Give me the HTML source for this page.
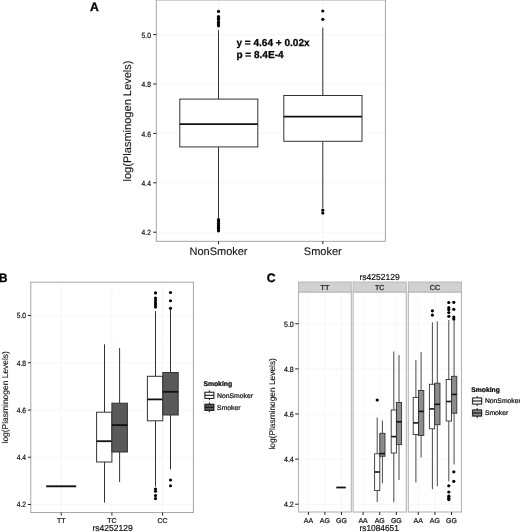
<!DOCTYPE html>
<html lang="en">
<head>
<meta charset="utf-8">
<title>Plasminogen levels by smoking status and genotype</title>
<style>
html, body { margin: 0; padding: 0; background: #ffffff; }
body { width: 520px; height: 532px; overflow: hidden; }
svg { display: block; will-change: transform; text-rendering: geometricPrecision; font-family: 'Liberation Sans', Arial, Helvetica, sans-serif; }
</style>
</head>
<body>
<svg width="520" height="532" viewBox="0 0 520 532" font-family="&quot;Liberation Sans&quot;, Arial, Helvetica, sans-serif">
<rect x="0" y="0" width="520" height="532" fill="#ffffff"/>
<rect x="156.3" y="0.0" width="229.10" height="241.30" fill="#fff"/>
<line x1="156.3" y1="9.900000000000091" x2="385.4" y2="9.900000000000091" stroke="#fdfdfd" stroke-width="0.6"/>
<line x1="156.3" y1="59.29999999999991" x2="385.4" y2="59.29999999999991" stroke="#fdfdfd" stroke-width="0.6"/>
<line x1="156.3" y1="108.69999999999996" x2="385.4" y2="108.69999999999996" stroke="#fdfdfd" stroke-width="0.6"/>
<line x1="156.3" y1="158.1" x2="385.4" y2="158.1" stroke="#fdfdfd" stroke-width="0.6"/>
<line x1="156.3" y1="207.50000000000003" x2="385.4" y2="207.50000000000003" stroke="#fdfdfd" stroke-width="0.6"/>
<line x1="156.3" y1="34.6" x2="385.4" y2="34.6" stroke="#f4f4f4" stroke-width="0.7"/>
<line x1="156.3" y1="84.00000000000004" x2="385.4" y2="84.00000000000004" stroke="#f4f4f4" stroke-width="0.7"/>
<line x1="156.3" y1="133.4000000000001" x2="385.4" y2="133.4000000000001" stroke="#f4f4f4" stroke-width="0.7"/>
<line x1="156.3" y1="182.7999999999999" x2="385.4" y2="182.7999999999999" stroke="#f4f4f4" stroke-width="0.7"/>
<line x1="156.3" y1="232.19999999999996" x2="385.4" y2="232.19999999999996" stroke="#f4f4f4" stroke-width="0.7"/>
<line x1="218.5" y1="0.0" x2="218.5" y2="241.3" stroke="#f4f4f4" stroke-width="0.7"/>
<line x1="322.8" y1="0.0" x2="322.8" y2="241.3" stroke="#f4f4f4" stroke-width="0.7"/>
<line x1="218.5" y1="30.2" x2="218.5" y2="99.1" stroke="#333333" stroke-width="1.0"/><line x1="218.5" y1="146.9" x2="218.5" y2="218.0" stroke="#333333" stroke-width="1.0"/><rect x="179.8" y="99.1" width="78.00" height="47.80" fill="#ffffff" stroke="#333333" stroke-width="1.0"/><line x1="179.8" y1="124.1" x2="257.8" y2="124.1" stroke="#111" stroke-width="1.8"/><circle cx="218.5" cy="11.4" r="1.6" fill="#000"/><circle cx="218.5" cy="16.5" r="1.6" fill="#000"/><circle cx="218.5" cy="18.2" r="1.6" fill="#000"/><circle cx="218.5" cy="19.8" r="1.6" fill="#000"/><circle cx="218.5" cy="22.3" r="1.6" fill="#000"/><circle cx="218.5" cy="24.0" r="1.6" fill="#000"/><circle cx="218.5" cy="25.8" r="1.6" fill="#000"/><circle cx="218.5" cy="219.7" r="1.6" fill="#000"/><circle cx="218.5" cy="221.6" r="1.6" fill="#000"/><circle cx="218.5" cy="223.5" r="1.6" fill="#000"/><circle cx="218.5" cy="225.4" r="1.6" fill="#000"/><circle cx="218.5" cy="227.3" r="1.6" fill="#000"/><circle cx="218.5" cy="229.1" r="1.6" fill="#000"/><circle cx="218.5" cy="230.8" r="1.6" fill="#000"/>
<line x1="322.8" y1="27.7" x2="322.8" y2="95.5" stroke="#333333" stroke-width="1.0"/><line x1="322.8" y1="141.3" x2="322.8" y2="208.2" stroke="#333333" stroke-width="1.0"/><rect x="283.8" y="95.5" width="78.20" height="45.80" fill="#ffffff" stroke="#333333" stroke-width="1.0"/><line x1="283.8" y1="116.6" x2="362.0" y2="116.6" stroke="#111" stroke-width="1.8"/><circle cx="322.8" cy="11.0" r="1.6" fill="#000"/><circle cx="322.8" cy="19.3" r="1.6" fill="#000"/><circle cx="322.8" cy="210.2" r="1.6" fill="#000"/><circle cx="322.8" cy="213.1" r="1.6" fill="#000"/>
<rect x="156.3" y="0.0" width="229.10" height="241.30" fill="none" stroke="#9c9c9c" stroke-width="0.9"/>
<line x1="153.20000000000002" y1="34.6" x2="156.3" y2="34.6" stroke="#222" stroke-width="1"/>
<text transform="translate(150.9 37.7) scale(0.88 1)" x="0" y="0" font-size="7.6" text-anchor="end" font-weight="normal" fill="#111111" stroke="#111111" stroke-width="0.22">5.0</text>
<line x1="153.20000000000002" y1="84.00000000000004" x2="156.3" y2="84.00000000000004" stroke="#222" stroke-width="1"/>
<text transform="translate(150.9 87.10000000000004) scale(0.88 1)" x="0" y="0" font-size="7.6" text-anchor="end" font-weight="normal" fill="#111111" stroke="#111111" stroke-width="0.22">4.8</text>
<line x1="153.20000000000002" y1="133.4000000000001" x2="156.3" y2="133.4000000000001" stroke="#222" stroke-width="1"/>
<text transform="translate(150.9 136.50000000000009) scale(0.88 1)" x="0" y="0" font-size="7.6" text-anchor="end" font-weight="normal" fill="#111111" stroke="#111111" stroke-width="0.22">4.6</text>
<line x1="153.20000000000002" y1="182.7999999999999" x2="156.3" y2="182.7999999999999" stroke="#222" stroke-width="1"/>
<text transform="translate(150.9 185.8999999999999) scale(0.88 1)" x="0" y="0" font-size="7.6" text-anchor="end" font-weight="normal" fill="#111111" stroke="#111111" stroke-width="0.22">4.4</text>
<line x1="153.20000000000002" y1="232.19999999999996" x2="156.3" y2="232.19999999999996" stroke="#222" stroke-width="1"/>
<text transform="translate(150.9 235.29999999999995) scale(0.88 1)" x="0" y="0" font-size="7.6" text-anchor="end" font-weight="normal" fill="#111111" stroke="#111111" stroke-width="0.22">4.2</text>
<line x1="218.5" y1="241.3" x2="218.5" y2="244.3" stroke="#222" stroke-width="1"/>
<text x="218.5" y="255.2" font-size="11" text-anchor="middle" font-weight="normal" fill="#111111" stroke="#111111" stroke-width="0.12">NonSmoker</text>
<line x1="322.8" y1="241.3" x2="322.8" y2="244.3" stroke="#222" stroke-width="1"/>
<text x="322.8" y="255.2" font-size="11" text-anchor="middle" font-weight="normal" fill="#111111" stroke="#111111" stroke-width="0.12">Smoker</text>
<text x="130.6" y="121.0" font-size="11.05" text-anchor="middle" font-weight="normal" fill="#111111" stroke="#111111" stroke-width="0.12" transform="rotate(-90 130.6 121.0)">log(Plasminogen Levels)</text>
<text x="236.4" y="46.3" font-size="10.05" text-anchor="start" font-weight="bold" fill="#000" stroke="#000" stroke-width="0.25">y = 4.64 + 0.02x</text>
<text x="236.4" y="57.5" font-size="10.05" text-anchor="start" font-weight="bold" fill="#000" stroke="#000" stroke-width="0.25">p = 8.4E-4</text>
<text x="89.9" y="10.5" font-size="12.2" text-anchor="start" font-weight="bold" fill="#000" stroke="#000" stroke-width="0.3">A</text>
<rect x="30.8" y="282.2" width="162.60" height="230.40" fill="#fff"/>
<line x1="30.8" y1="291.8750000000001" x2="193.4" y2="291.8750000000001" stroke="#fdfdfd" stroke-width="0.6"/>
<line x1="30.8" y1="339.1249999999999" x2="193.4" y2="339.1249999999999" stroke="#fdfdfd" stroke-width="0.6"/>
<line x1="30.8" y1="386.37499999999994" x2="193.4" y2="386.37499999999994" stroke="#fdfdfd" stroke-width="0.6"/>
<line x1="30.8" y1="433.625" x2="193.4" y2="433.625" stroke="#fdfdfd" stroke-width="0.6"/>
<line x1="30.8" y1="480.875" x2="193.4" y2="480.875" stroke="#fdfdfd" stroke-width="0.6"/>
<line x1="30.8" y1="315.5" x2="193.4" y2="315.5" stroke="#f4f4f4" stroke-width="0.7"/>
<line x1="30.8" y1="362.75000000000006" x2="193.4" y2="362.75000000000006" stroke="#f4f4f4" stroke-width="0.7"/>
<line x1="30.8" y1="410.0000000000001" x2="193.4" y2="410.0000000000001" stroke="#f4f4f4" stroke-width="0.7"/>
<line x1="30.8" y1="457.2499999999999" x2="193.4" y2="457.2499999999999" stroke="#f4f4f4" stroke-width="0.7"/>
<line x1="30.8" y1="504.5" x2="193.4" y2="504.5" stroke="#f4f4f4" stroke-width="0.7"/>
<line x1="61.2" y1="282.2" x2="61.2" y2="512.6" stroke="#f4f4f4" stroke-width="0.7"/>
<line x1="111.9" y1="282.2" x2="111.9" y2="512.6" stroke="#f4f4f4" stroke-width="0.7"/>
<line x1="162.6" y1="282.2" x2="162.6" y2="512.6" stroke="#f4f4f4" stroke-width="0.7"/>
<line x1="46.2" y1="486.3" x2="76.2" y2="486.3" stroke="#111" stroke-width="1.9"/>
<line x1="104.5" y1="344.3" x2="104.5" y2="412.2" stroke="#333333" stroke-width="1.0"/><line x1="104.5" y1="462.0" x2="104.5" y2="502.6" stroke="#333333" stroke-width="1.0"/><rect x="96.6" y="412.2" width="15.30" height="49.80" fill="#ffffff" stroke="#333333" stroke-width="1.0"/><line x1="96.6" y1="441.2" x2="111.9" y2="441.2" stroke="#111" stroke-width="1.8"/>
<line x1="119.6" y1="348.0" x2="119.6" y2="403.2" stroke="#333333" stroke-width="1.0"/><line x1="119.6" y1="452.0" x2="119.6" y2="482.0" stroke="#333333" stroke-width="1.0"/><rect x="111.9" y="403.2" width="15.50" height="48.80" fill="#595959" stroke="#333333" stroke-width="1.0"/><line x1="111.9" y1="425.1" x2="127.4" y2="425.1" stroke="#111" stroke-width="1.8"/>
<line x1="155.5" y1="311.0" x2="155.5" y2="376.3" stroke="#333333" stroke-width="1.0"/><line x1="155.5" y1="420.8" x2="155.5" y2="486.5" stroke="#333333" stroke-width="1.0"/><rect x="147.4" y="376.3" width="15.40" height="44.50" fill="#ffffff" stroke="#333333" stroke-width="1.0"/><line x1="147.4" y1="399.4" x2="162.8" y2="399.4" stroke="#111" stroke-width="1.8"/><circle cx="155.5" cy="292.9" r="1.55" fill="#000"/><circle cx="155.5" cy="298.0" r="1.55" fill="#000"/><circle cx="155.5" cy="300.4" r="1.55" fill="#000"/><circle cx="155.5" cy="302.8" r="1.55" fill="#000"/><circle cx="155.5" cy="304.8" r="1.55" fill="#000"/><circle cx="155.5" cy="307.0" r="1.55" fill="#000"/><circle cx="155.5" cy="489.0" r="1.55" fill="#000"/><circle cx="155.5" cy="491.2" r="1.55" fill="#000"/><circle cx="155.5" cy="495.6" r="1.55" fill="#000"/><circle cx="155.5" cy="498.6" r="1.55" fill="#000"/>
<line x1="170.5" y1="309.0" x2="170.5" y2="372.5" stroke="#333333" stroke-width="1.0"/><line x1="170.5" y1="415.0" x2="170.5" y2="469.5" stroke="#333333" stroke-width="1.0"/><rect x="162.8" y="372.5" width="15.40" height="42.50" fill="#595959" stroke="#333333" stroke-width="1.0"/><line x1="162.8" y1="391.8" x2="178.2" y2="391.8" stroke="#111" stroke-width="1.8"/><circle cx="170.5" cy="292.5" r="1.55" fill="#000"/><circle cx="170.5" cy="300.8" r="1.55" fill="#000"/><circle cx="170.5" cy="308.2" r="1.55" fill="#000"/><circle cx="170.5" cy="480.0" r="1.55" fill="#000"/><circle cx="170.5" cy="485.8" r="1.55" fill="#000"/>
<rect x="30.8" y="282.2" width="162.60" height="230.40" fill="none" stroke="#9c9c9c" stroke-width="0.9"/>
<line x1="27.900000000000002" y1="315.5" x2="30.8" y2="315.5" stroke="#222" stroke-width="1"/>
<text transform="translate(26.0 318.3) scale(0.88 1)" x="0" y="0" font-size="7.6" text-anchor="end" font-weight="normal" fill="#111111" stroke="#111111" stroke-width="0.22">5.0</text>
<line x1="27.900000000000002" y1="362.75000000000006" x2="30.8" y2="362.75000000000006" stroke="#222" stroke-width="1"/>
<text transform="translate(26.0 365.55000000000007) scale(0.88 1)" x="0" y="0" font-size="7.6" text-anchor="end" font-weight="normal" fill="#111111" stroke="#111111" stroke-width="0.22">4.8</text>
<line x1="27.900000000000002" y1="410.0000000000001" x2="30.8" y2="410.0000000000001" stroke="#222" stroke-width="1"/>
<text transform="translate(26.0 412.8000000000001) scale(0.88 1)" x="0" y="0" font-size="7.6" text-anchor="end" font-weight="normal" fill="#111111" stroke="#111111" stroke-width="0.22">4.6</text>
<line x1="27.900000000000002" y1="457.2499999999999" x2="30.8" y2="457.2499999999999" stroke="#222" stroke-width="1"/>
<text transform="translate(26.0 460.0499999999999) scale(0.88 1)" x="0" y="0" font-size="7.6" text-anchor="end" font-weight="normal" fill="#111111" stroke="#111111" stroke-width="0.22">4.4</text>
<line x1="27.900000000000002" y1="504.5" x2="30.8" y2="504.5" stroke="#222" stroke-width="1"/>
<text transform="translate(26.0 507.3) scale(0.88 1)" x="0" y="0" font-size="7.6" text-anchor="end" font-weight="normal" fill="#111111" stroke="#111111" stroke-width="0.22">4.2</text>
<line x1="61.2" y1="512.6" x2="61.2" y2="515.5" stroke="#222" stroke-width="1"/>
<text x="61.2" y="523.3" font-size="7.0" text-anchor="middle" font-weight="normal" fill="#111111" stroke="#111111" stroke-width="0.22">TT</text>
<line x1="111.9" y1="512.6" x2="111.9" y2="515.5" stroke="#222" stroke-width="1"/>
<text x="111.9" y="523.3" font-size="7.0" text-anchor="middle" font-weight="normal" fill="#111111" stroke="#111111" stroke-width="0.22">TC</text>
<line x1="162.6" y1="512.6" x2="162.6" y2="515.5" stroke="#222" stroke-width="1"/>
<text x="162.6" y="523.3" font-size="7.0" text-anchor="middle" font-weight="normal" fill="#111111" stroke="#111111" stroke-width="0.22">CC</text>
<text transform="translate(112.6 531.0) scale(0.97 1)" x="0" y="0" font-size="8.75" text-anchor="middle" font-weight="normal" fill="#111111" stroke="#111111" stroke-width="0.2">rs4252129</text>
<text x="8.1" y="397.3" font-size="8.45" text-anchor="middle" font-weight="normal" fill="#111111" stroke="#111111" stroke-width="0.12" transform="rotate(-90 8.1 397.3)">log(Plasminogen Levels)</text>
<text x="-1.2" y="282.1" font-size="12.2" text-anchor="start" font-weight="bold" fill="#000" stroke="#000" stroke-width="0.3">B</text>
<text x="203.4" y="386.2" font-size="6.8" text-anchor="start" font-weight="bold" fill="#000" stroke="#000" stroke-width="0.22">Smoking</text>
<rect x="203.4" y="389.3" width="12.0" height="12.0" fill="#fff" stroke="#dddddd" stroke-width="0.4"/>
<line x1="209.4" y1="390.40000000000003" x2="209.4" y2="400.2" stroke="#111111" stroke-width="1"/>
<rect x="204.9" y="392.2" width="9.0" height="6.2" fill="#fff" stroke="#111111" stroke-width="1"/>
<line x1="204.9" y1="395.3" x2="213.9" y2="395.3" stroke="#111111" stroke-width="1.1"/>
<text x="217.1" y="397.7" font-size="6.8" text-anchor="start" font-weight="normal" fill="#111111" stroke="#111111" stroke-width="0.22">NonSmoker</text>
<rect x="203.4" y="401.3" width="12.0" height="12.0" fill="#fff" stroke="#dddddd" stroke-width="0.4"/>
<line x1="209.4" y1="402.40000000000003" x2="209.4" y2="412.2" stroke="#111111" stroke-width="1"/>
<rect x="204.9" y="404.2" width="9.0" height="6.2" fill="#595959" stroke="#111111" stroke-width="1"/>
<line x1="204.9" y1="407.3" x2="213.9" y2="407.3" stroke="#111111" stroke-width="1.1"/>
<text x="217.1" y="409.7" font-size="6.8" text-anchor="start" font-weight="normal" fill="#111111" stroke="#111111" stroke-width="0.22">Smoker</text>
<rect x="298.5" y="292.0" width="52.80" height="220.00" fill="#fff"/>
<line x1="298.5" y1="301.19000000000005" x2="351.3" y2="301.19000000000005" stroke="#fdfdfd" stroke-width="0.6"/>
<line x1="298.5" y1="346.30999999999995" x2="351.3" y2="346.30999999999995" stroke="#fdfdfd" stroke-width="0.6"/>
<line x1="298.5" y1="391.42999999999995" x2="351.3" y2="391.42999999999995" stroke="#fdfdfd" stroke-width="0.6"/>
<line x1="298.5" y1="436.55" x2="351.3" y2="436.55" stroke="#fdfdfd" stroke-width="0.6"/>
<line x1="298.5" y1="481.6700000000001" x2="351.3" y2="481.6700000000001" stroke="#fdfdfd" stroke-width="0.6"/>
<line x1="298.5" y1="323.75" x2="351.3" y2="323.75" stroke="#f4f4f4" stroke-width="0.7"/>
<line x1="298.5" y1="368.87000000000006" x2="351.3" y2="368.87000000000006" stroke="#f4f4f4" stroke-width="0.7"/>
<line x1="298.5" y1="413.99000000000007" x2="351.3" y2="413.99000000000007" stroke="#f4f4f4" stroke-width="0.7"/>
<line x1="298.5" y1="459.1099999999999" x2="351.3" y2="459.1099999999999" stroke="#f4f4f4" stroke-width="0.7"/>
<line x1="298.5" y1="504.22999999999996" x2="351.3" y2="504.22999999999996" stroke="#f4f4f4" stroke-width="0.7"/>
<line x1="308.4" y1="292.0" x2="308.4" y2="512.0" stroke="#f4f4f4" stroke-width="0.7"/>
<line x1="324.9" y1="292.0" x2="324.9" y2="512.0" stroke="#f4f4f4" stroke-width="0.7"/>
<line x1="341.40000000000003" y1="292.0" x2="341.40000000000003" y2="512.0" stroke="#f4f4f4" stroke-width="0.7"/>
<rect x="353.1" y="292.0" width="53.20" height="220.00" fill="#fff"/>
<line x1="353.1" y1="301.19000000000005" x2="406.3" y2="301.19000000000005" stroke="#fdfdfd" stroke-width="0.6"/>
<line x1="353.1" y1="346.30999999999995" x2="406.3" y2="346.30999999999995" stroke="#fdfdfd" stroke-width="0.6"/>
<line x1="353.1" y1="391.42999999999995" x2="406.3" y2="391.42999999999995" stroke="#fdfdfd" stroke-width="0.6"/>
<line x1="353.1" y1="436.55" x2="406.3" y2="436.55" stroke="#fdfdfd" stroke-width="0.6"/>
<line x1="353.1" y1="481.6700000000001" x2="406.3" y2="481.6700000000001" stroke="#fdfdfd" stroke-width="0.6"/>
<line x1="353.1" y1="323.75" x2="406.3" y2="323.75" stroke="#f4f4f4" stroke-width="0.7"/>
<line x1="353.1" y1="368.87000000000006" x2="406.3" y2="368.87000000000006" stroke="#f4f4f4" stroke-width="0.7"/>
<line x1="353.1" y1="413.99000000000007" x2="406.3" y2="413.99000000000007" stroke="#f4f4f4" stroke-width="0.7"/>
<line x1="353.1" y1="459.1099999999999" x2="406.3" y2="459.1099999999999" stroke="#f4f4f4" stroke-width="0.7"/>
<line x1="353.1" y1="504.22999999999996" x2="406.3" y2="504.22999999999996" stroke="#f4f4f4" stroke-width="0.7"/>
<line x1="363.07500000000005" y1="292.0" x2="363.07500000000005" y2="512.0" stroke="#f4f4f4" stroke-width="0.7"/>
<line x1="379.70000000000005" y1="292.0" x2="379.70000000000005" y2="512.0" stroke="#f4f4f4" stroke-width="0.7"/>
<line x1="396.32500000000005" y1="292.0" x2="396.32500000000005" y2="512.0" stroke="#f4f4f4" stroke-width="0.7"/>
<rect x="408.3" y="292.0" width="53.20" height="220.00" fill="#fff"/>
<line x1="408.3" y1="301.19000000000005" x2="461.5" y2="301.19000000000005" stroke="#fdfdfd" stroke-width="0.6"/>
<line x1="408.3" y1="346.30999999999995" x2="461.5" y2="346.30999999999995" stroke="#fdfdfd" stroke-width="0.6"/>
<line x1="408.3" y1="391.42999999999995" x2="461.5" y2="391.42999999999995" stroke="#fdfdfd" stroke-width="0.6"/>
<line x1="408.3" y1="436.55" x2="461.5" y2="436.55" stroke="#fdfdfd" stroke-width="0.6"/>
<line x1="408.3" y1="481.6700000000001" x2="461.5" y2="481.6700000000001" stroke="#fdfdfd" stroke-width="0.6"/>
<line x1="408.3" y1="323.75" x2="461.5" y2="323.75" stroke="#f4f4f4" stroke-width="0.7"/>
<line x1="408.3" y1="368.87000000000006" x2="461.5" y2="368.87000000000006" stroke="#f4f4f4" stroke-width="0.7"/>
<line x1="408.3" y1="413.99000000000007" x2="461.5" y2="413.99000000000007" stroke="#f4f4f4" stroke-width="0.7"/>
<line x1="408.3" y1="459.1099999999999" x2="461.5" y2="459.1099999999999" stroke="#f4f4f4" stroke-width="0.7"/>
<line x1="408.3" y1="504.22999999999996" x2="461.5" y2="504.22999999999996" stroke="#f4f4f4" stroke-width="0.7"/>
<line x1="418.27500000000003" y1="292.0" x2="418.27500000000003" y2="512.0" stroke="#f4f4f4" stroke-width="0.7"/>
<line x1="434.9" y1="292.0" x2="434.9" y2="512.0" stroke="#f4f4f4" stroke-width="0.7"/>
<line x1="451.525" y1="292.0" x2="451.525" y2="512.0" stroke="#f4f4f4" stroke-width="0.7"/>
<line x1="336.3" y1="487.5" x2="345.8" y2="487.5" stroke="#111" stroke-width="1.8"/>
<line x1="377.2" y1="417.5" x2="377.2" y2="453.8" stroke="#333333" stroke-width="0.9"/><line x1="377.2" y1="490.5" x2="377.2" y2="502.0" stroke="#333333" stroke-width="0.9"/><rect x="374.6" y="453.8" width="5.20" height="36.70" fill="#ffffff" stroke="#333333" stroke-width="0.9"/><line x1="374.6" y1="472.0" x2="379.8" y2="472.0" stroke="#111" stroke-width="1.6"/><circle cx="377.2" cy="400.0" r="1.6" fill="#000"/>
<line x1="382.4" y1="420.5" x2="382.4" y2="433.3" stroke="#333333" stroke-width="0.9"/><line x1="382.4" y1="456.3" x2="382.4" y2="483.3" stroke="#333333" stroke-width="0.9"/><rect x="379.8" y="433.3" width="5.20" height="23.00" fill="#8c8c8c" stroke="#333333" stroke-width="0.9"/><line x1="379.8" y1="453.6" x2="385.0" y2="453.6" stroke="#111" stroke-width="1.6"/>
<line x1="393.8" y1="351.5" x2="393.8" y2="410.0" stroke="#333333" stroke-width="0.9"/><line x1="393.8" y1="453.0" x2="393.8" y2="502.2" stroke="#333333" stroke-width="0.9"/><rect x="391.2" y="410.0" width="5.20" height="43.00" fill="#ffffff" stroke="#333333" stroke-width="0.9"/><line x1="391.2" y1="436.6" x2="396.4" y2="436.6" stroke="#111" stroke-width="1.6"/>
<line x1="399.0" y1="355.0" x2="399.0" y2="402.5" stroke="#333333" stroke-width="0.9"/><line x1="399.0" y1="444.6" x2="399.0" y2="480.0" stroke="#333333" stroke-width="0.9"/><rect x="396.4" y="402.5" width="5.20" height="42.10" fill="#8c8c8c" stroke="#333333" stroke-width="0.9"/><line x1="396.4" y1="421.8" x2="401.6" y2="421.8" stroke="#111" stroke-width="1.6"/>
<line x1="415.9" y1="360.0" x2="415.9" y2="397.4" stroke="#333333" stroke-width="0.9"/><line x1="415.9" y1="434.5" x2="415.9" y2="482.5" stroke="#333333" stroke-width="0.9"/><rect x="413.2" y="397.4" width="5.30" height="37.10" fill="#ffffff" stroke="#333333" stroke-width="0.9"/><line x1="413.2" y1="422.9" x2="418.5" y2="422.9" stroke="#111" stroke-width="1.6"/>
<line x1="421.1" y1="352.0" x2="421.1" y2="390.5" stroke="#333333" stroke-width="0.9"/><line x1="421.1" y1="435.5" x2="421.1" y2="457.5" stroke="#333333" stroke-width="0.9"/><rect x="418.5" y="390.5" width="5.30" height="45.00" fill="#8c8c8c" stroke="#333333" stroke-width="0.9"/><line x1="418.5" y1="411.4" x2="423.8" y2="411.4" stroke="#111" stroke-width="1.6"/>
<line x1="432.4" y1="322.4" x2="432.4" y2="384.3" stroke="#333333" stroke-width="0.9"/><line x1="432.4" y1="428.8" x2="432.4" y2="489.3" stroke="#333333" stroke-width="0.9"/><rect x="429.4" y="384.3" width="5.30" height="44.50" fill="#ffffff" stroke="#333333" stroke-width="0.9"/><line x1="429.4" y1="408.9" x2="434.7" y2="408.9" stroke="#111" stroke-width="1.6"/><circle cx="432.4" cy="310.8" r="1.6" fill="#000"/><circle cx="432.4" cy="315.1" r="1.6" fill="#000"/>
<line x1="437.3" y1="321.3" x2="437.3" y2="383.2" stroke="#333333" stroke-width="0.9"/><line x1="437.3" y1="424.7" x2="437.3" y2="486.3" stroke="#333333" stroke-width="0.9"/><rect x="434.7" y="383.2" width="5.30" height="41.50" fill="#8c8c8c" stroke="#333333" stroke-width="0.9"/><line x1="434.7" y1="404.3" x2="440.0" y2="404.3" stroke="#111" stroke-width="1.6"/>
<line x1="448.8" y1="320.0" x2="448.8" y2="379.5" stroke="#333333" stroke-width="0.9"/><line x1="448.8" y1="421.0" x2="448.8" y2="481.3" stroke="#333333" stroke-width="0.9"/><rect x="446.2" y="379.5" width="5.30" height="41.50" fill="#ffffff" stroke="#333333" stroke-width="0.9"/><line x1="446.2" y1="401.5" x2="451.5" y2="401.5" stroke="#111" stroke-width="1.6"/><circle cx="448.8" cy="302.5" r="1.6" fill="#000"/><circle cx="448.8" cy="307.5" r="1.6" fill="#000"/><circle cx="448.8" cy="309.6" r="1.6" fill="#000"/><circle cx="448.8" cy="312.5" r="1.6" fill="#000"/><circle cx="448.8" cy="316.3" r="1.6" fill="#000"/><circle cx="448.8" cy="485.8" r="1.6" fill="#000"/><circle cx="448.8" cy="492.0" r="1.6" fill="#000"/><circle cx="448.8" cy="496.2" r="1.6" fill="#000"/><circle cx="448.8" cy="498.2" r="1.6" fill="#000"/><circle cx="448.8" cy="499.6" r="1.6" fill="#000"/>
<line x1="454.1" y1="320.0" x2="454.1" y2="376.3" stroke="#333333" stroke-width="0.9"/><line x1="454.1" y1="413.2" x2="454.1" y2="464.5" stroke="#333333" stroke-width="0.9"/><rect x="451.5" y="376.3" width="5.30" height="36.90" fill="#8c8c8c" stroke="#333333" stroke-width="0.9"/><line x1="451.5" y1="394.4" x2="456.8" y2="394.4" stroke="#111" stroke-width="1.6"/><circle cx="453.8" cy="302.3" r="1.6" fill="#000"/><circle cx="453.8" cy="309.3" r="1.6" fill="#000"/><circle cx="453.8" cy="317.0" r="1.6" fill="#000"/><circle cx="453.8" cy="318.9" r="1.6" fill="#000"/><circle cx="453.8" cy="471.8" r="1.6" fill="#000"/><circle cx="453.8" cy="481.3" r="1.6" fill="#000"/>
<rect x="298.5" y="292.0" width="52.80" height="220.00" fill="none" stroke="#b4b4b4" stroke-width="1.1"/>
<rect x="298.5" y="282.0" width="52.80" height="10.0" fill="#d1d1d1" stroke="#b4b4b4" stroke-width="0.9"/>
<text x="324.9" y="289.8" font-size="7.2" text-anchor="middle" font-weight="normal" fill="#111111" stroke="#111111" stroke-width="0.22">TT</text>
<line x1="308.40" y1="512.0" x2="308.40" y2="515.0" stroke="#222" stroke-width="1"/>
<text x="308.4" y="523.1" font-size="7.0" text-anchor="middle" font-weight="normal" fill="#111111" stroke="#111111" stroke-width="0.22">AA</text>
<line x1="324.90" y1="512.0" x2="324.90" y2="515.0" stroke="#222" stroke-width="1"/>
<text x="324.9" y="523.1" font-size="7.0" text-anchor="middle" font-weight="normal" fill="#111111" stroke="#111111" stroke-width="0.22">AG</text>
<line x1="341.40" y1="512.0" x2="341.40" y2="515.0" stroke="#222" stroke-width="1"/>
<text x="341.4" y="523.1" font-size="7.0" text-anchor="middle" font-weight="normal" fill="#111111" stroke="#111111" stroke-width="0.22">GG</text>
<rect x="353.1" y="292.0" width="53.20" height="220.00" fill="none" stroke="#b4b4b4" stroke-width="1.1"/>
<rect x="353.1" y="282.0" width="53.20" height="10.0" fill="#d1d1d1" stroke="#b4b4b4" stroke-width="0.9"/>
<text x="379.70000000000005" y="289.8" font-size="7.2" text-anchor="middle" font-weight="normal" fill="#111111" stroke="#111111" stroke-width="0.22">TC</text>
<line x1="363.08" y1="512.0" x2="363.08" y2="515.0" stroke="#222" stroke-width="1"/>
<text x="363.08" y="523.1" font-size="7.0" text-anchor="middle" font-weight="normal" fill="#111111" stroke="#111111" stroke-width="0.22">AA</text>
<line x1="379.70" y1="512.0" x2="379.70" y2="515.0" stroke="#222" stroke-width="1"/>
<text x="379.7" y="523.1" font-size="7.0" text-anchor="middle" font-weight="normal" fill="#111111" stroke="#111111" stroke-width="0.22">AG</text>
<line x1="396.33" y1="512.0" x2="396.33" y2="515.0" stroke="#222" stroke-width="1"/>
<text x="396.33" y="523.1" font-size="7.0" text-anchor="middle" font-weight="normal" fill="#111111" stroke="#111111" stroke-width="0.22">GG</text>
<rect x="408.3" y="292.0" width="53.20" height="220.00" fill="none" stroke="#b4b4b4" stroke-width="1.1"/>
<rect x="408.3" y="282.0" width="53.20" height="10.0" fill="#d1d1d1" stroke="#b4b4b4" stroke-width="0.9"/>
<text x="434.9" y="289.8" font-size="7.2" text-anchor="middle" font-weight="normal" fill="#111111" stroke="#111111" stroke-width="0.22">CC</text>
<line x1="418.28" y1="512.0" x2="418.28" y2="515.0" stroke="#222" stroke-width="1"/>
<text x="418.28" y="523.1" font-size="7.0" text-anchor="middle" font-weight="normal" fill="#111111" stroke="#111111" stroke-width="0.22">AA</text>
<line x1="434.90" y1="512.0" x2="434.90" y2="515.0" stroke="#222" stroke-width="1"/>
<text x="434.9" y="523.1" font-size="7.0" text-anchor="middle" font-weight="normal" fill="#111111" stroke="#111111" stroke-width="0.22">AG</text>
<line x1="451.52" y1="512.0" x2="451.52" y2="515.0" stroke="#222" stroke-width="1"/>
<text x="451.52" y="523.1" font-size="7.0" text-anchor="middle" font-weight="normal" fill="#111111" stroke="#111111" stroke-width="0.22">GG</text>
<line x1="295.2" y1="323.75" x2="298.5" y2="323.75" stroke="#222" stroke-width="1"/>
<text transform="translate(293.8 326.75) scale(0.93 1)" x="0" y="0" font-size="7.6" text-anchor="end" font-weight="normal" fill="#111111" stroke="#111111" stroke-width="0.22">5.0</text>
<line x1="295.2" y1="368.87000000000006" x2="298.5" y2="368.87000000000006" stroke="#222" stroke-width="1"/>
<text transform="translate(293.8 371.87000000000006) scale(0.93 1)" x="0" y="0" font-size="7.6" text-anchor="end" font-weight="normal" fill="#111111" stroke="#111111" stroke-width="0.22">4.8</text>
<line x1="295.2" y1="413.99000000000007" x2="298.5" y2="413.99000000000007" stroke="#222" stroke-width="1"/>
<text transform="translate(293.8 416.99000000000007) scale(0.93 1)" x="0" y="0" font-size="7.6" text-anchor="end" font-weight="normal" fill="#111111" stroke="#111111" stroke-width="0.22">4.6</text>
<line x1="295.2" y1="459.1099999999999" x2="298.5" y2="459.1099999999999" stroke="#222" stroke-width="1"/>
<text transform="translate(293.8 462.1099999999999) scale(0.93 1)" x="0" y="0" font-size="7.6" text-anchor="end" font-weight="normal" fill="#111111" stroke="#111111" stroke-width="0.22">4.4</text>
<line x1="295.2" y1="504.22999999999996" x2="298.5" y2="504.22999999999996" stroke="#222" stroke-width="1"/>
<text transform="translate(293.8 507.22999999999996) scale(0.93 1)" x="0" y="0" font-size="7.6" text-anchor="end" font-weight="normal" fill="#111111" stroke="#111111" stroke-width="0.22">4.2</text>
<text transform="translate(379.6 280.0) scale(0.97 1)" x="0" y="0" font-size="8.75" text-anchor="middle" font-weight="normal" fill="#111111" stroke="#111111" stroke-width="0.2">rs4252129</text>
<text transform="translate(379.2 531.0) scale(0.95 1)" x="0" y="0" font-size="8.75" text-anchor="middle" font-weight="normal" fill="#111111" stroke="#111111" stroke-width="0.2">rs1084651</text>
<text x="274.9" y="403.8" font-size="8.35" text-anchor="middle" font-weight="normal" fill="#111111" stroke="#111111" stroke-width="0.12" transform="rotate(-90 274.9 403.8)">log(Plasminogen Levels)</text>
<text x="266.8" y="282.0" font-size="12.2" text-anchor="start" font-weight="bold" fill="#000" stroke="#000" stroke-width="0.3">C</text>
<text x="471.2" y="392.0" font-size="6.8" text-anchor="start" font-weight="bold" fill="#000" stroke="#000" stroke-width="0.22">Smoking</text>
<rect x="471.2" y="395.0" width="12.0" height="12.0" fill="#fff" stroke="#dddddd" stroke-width="0.4"/>
<line x1="477.2" y1="396.1" x2="477.2" y2="405.9" stroke="#111111" stroke-width="1"/>
<rect x="472.7" y="397.9" width="9.0" height="6.2" fill="#fff" stroke="#111111" stroke-width="1"/>
<line x1="472.7" y1="401.0" x2="481.7" y2="401.0" stroke="#111111" stroke-width="1.1"/>
<text x="484.9" y="403.4" font-size="6.8" text-anchor="start" font-weight="normal" fill="#111111" stroke="#111111" stroke-width="0.22">NonSmoker</text>
<rect x="471.2" y="407.0" width="12.0" height="12.0" fill="#fff" stroke="#dddddd" stroke-width="0.4"/>
<line x1="477.2" y1="408.1" x2="477.2" y2="417.9" stroke="#111111" stroke-width="1"/>
<rect x="472.7" y="409.9" width="9.0" height="6.2" fill="#8c8c8c" stroke="#111111" stroke-width="1"/>
<line x1="472.7" y1="413.0" x2="481.7" y2="413.0" stroke="#111111" stroke-width="1.1"/>
<text x="484.9" y="415.4" font-size="6.8" text-anchor="start" font-weight="normal" fill="#111111" stroke="#111111" stroke-width="0.22">Smoker</text>
</svg>
</body>
</html>
